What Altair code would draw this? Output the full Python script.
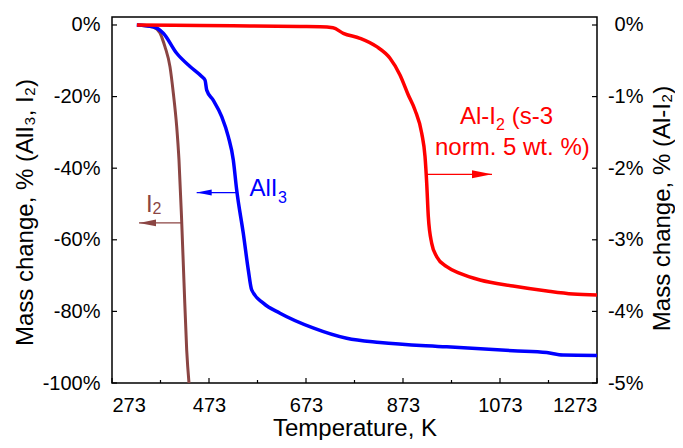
import altair as alt
import pandas as pd

# ---------------- data ----------------
# I2, left axis (mass change, %)
T_I2 = [324.5, 357.5, 372.0, 376.1, 382.3, 392.6, 399.4, 406.4, 411.1, 416.3, 421.5, 427.0, 431.8]
M_I2 = [0.0, -0.6, -2.2, -3.6, -6.1, -11.7, -19.0, -28.4, -37.7, -53.5, -72.1, -90.8, -100.1]

# AlI3, left axis (mass change, %)
T_ALI3 = [324.0, 358.0, 378.8, 406.4, 433.8, 458.0, 464.8, 468.3, 481.3, 499.2, 512.8, 523.1,
          530.1, 543.7, 554.0, 561.0, 585.0, 619.4, 687.5, 756.9, 825.6, 963.1, 1099.8,
          1169.3, 1202.9, 1273.0]
M_ALI3 = [0.0, -0.5, -2.3, -7.9, -11.6, -14.4, -15.4, -18.2, -20.9, -25.6, -31.2, -37.7,
          -46.1, -58.2, -68.4, -74.0, -77.7, -80.5, -84.6, -87.5, -88.7, -89.9, -91.0,
          -91.5, -92.2, -92.3]

# Al-I2 (s-3, norm. 5 wt. %), right axis (mass change, %)
T_ALI2 = [324.5, 454.4, 557.5, 660.6, 701.9, 728.7, 749.9, 784.4, 818.8, 846.2, 866.8, 883.9,
          897.7, 911.6, 918.4, 921.9, 925.2, 932.2, 942.5, 963.1, 990.5, 1031.8, 1099.8,
          1169.9, 1223.5, 1273.0]
M_ALI2 = [0.0, -0.007, -0.014, -0.021, -0.024, -0.038, -0.116, -0.186, -0.303, -0.465, -0.698,
          -0.978, -1.187, -1.513, -1.839, -2.211, -2.677, -3.049, -3.236, -3.376, -3.468,
          -3.561, -3.645, -3.715, -3.757, -3.771]

# axes
X_TICKS = [273, 473, 673, 873, 1073, 1273]
X_MINOR = [373, 573, 773, 973, 1173]
YL_TICKS = [0, -20, -40, -60, -80, -100]
YR_TICKS = [0, -1, -2, -3, -4, -5]

# annotations (positions in temperature / left-axis units)
LABEL_TXT = ["I", "2", "AlI", "3", "Al-I", "2", "(s-3", "norm. 5 wt. %)"]
LABEL_T = [343.1, 356.5, 556.5, 615.3, 990.5, 1064.8, 1097.2, 939.0]
LABEL_V = [-52.2, -52.8, -47.8, -49.7, -27.7, -29.3, -27.7, -36.3]
LABEL_SIZE = [24, 16, 24, 16, 24, 16, 24, 24]
LABEL_COL = ["#8b4543", "#8b4543", "#0000ff", "#0000ff", "#ff0000", "#ff0000", "#ff0000", "#ff0000"]

ARROW_FROM = [417.3, 530.1, 922.5]
ARROW_TO = [328.7, 447.6, 1056.5]
ARROW_V = [-55.3, -46.8, -41.7]
ARROW_COL = ["#8b4543", "#0000ff", "#ff0000"]

BROWN, BLUE, RED = "#8b4543", "#0000ff", "#ff0000"
FONT = "Liberation Sans"
W, H = 485, 366

# ---------------- tables ----------------
d_i2 = pd.DataFrame({"T": T_I2, "v": M_I2})
d_ali3 = pd.DataFrame({"T": T_ALI3, "v": M_ALI3})
d_ali2 = pd.DataFrame({"T": T_ALI2, "v": M_ALI2})
d_lab = pd.DataFrame({"T": LABEL_T, "v": LABEL_V, "txt": LABEL_TXT,
                      "fs": LABEL_SIZE, "col": LABEL_COL})
d_arr = pd.DataFrame({"T": ARROW_FROM, "T2": ARROW_TO, "v": ARROW_V, "col": ARROW_COL})
d_xt = pd.DataFrame({"T": X_TICKS})
d_xm = pd.DataFrame({"T": X_MINOR})
d_yl = pd.DataFrame({"v": YL_TICKS})
d_yr = pd.DataFrame({"v": YR_TICKS})

xs = alt.Scale(domain=[273, 1273], nice=False, zero=False)
ysL = alt.Scale(domain=[-100, 2.23], nice=False, zero=False)
ysR = alt.Scale(domain=[-5, 0.1117], nice=False, zero=False)

axX = alt.Axis(values=X_TICKS, format="d", title="Temperature, K", labelPadding=12,
               titleX=W / 2, titleY=52, titleBaseline="alphabetic", titleAlign="center")
axL = alt.Axis(values=YL_TICKS, labelExpr="datum.value + '%'",
               title="Mass change, % (AlI\u2083, I\u2082)", labelPadding=12,
               titleAngle=270, titleX=-80, titleY=195, titleBaseline="alphabetic",
               titleAlign="center")
axR = alt.Axis(values=YR_TICKS, labelExpr="datum.value + '%'", orient="right",
               title="Mass change, % (Al-I\u2082)", labelPadding=46, labelAlign="right",
               titleAngle=270, titleX=72, titleY=191, titleBaseline="alphabetic",
               titleAlign="center")


def X(f="T"):
    return alt.X(f"{f}:Q", scale=xs, axis=axX)


def YL(f="v"):
    return alt.Y(f"{f}:Q", scale=ysL, axis=axL)


def YR(f="v"):
    return alt.Y(f"{f}:Q", scale=ysR, axis=axR)


line_i2 = alt.Chart(d_i2).mark_line(color=BROWN, strokeWidth=3, interpolate="monotone",
                                    clip=True).encode(x=X(), y=YL())
line_ali3 = alt.Chart(d_ali3).mark_line(color=BLUE, strokeWidth=3.5, interpolate="monotone",
                                        clip=True).encode(x=X(), y=YL())
line_ali2 = alt.Chart(d_ali2).mark_line(color=RED, strokeWidth=3.5, interpolate="monotone",
                                        clip=True).encode(x=X(), y=YR())

labels = alt.Chart(d_lab).mark_text(align="left", baseline="alphabetic", font=FONT).encode(
    x=X(), y=YL(), text="txt:N",
    size=alt.Size("fs:Q", scale=None, legend=None),
    color=alt.Color("col:N", scale=None, legend=None))

shafts = alt.Chart(d_arr).mark_rule(strokeWidth=1.3).encode(
    x=X(), x2="T2:Q", y=YL(), color=alt.Color("col:N", scale=None, legend=None))

LEFT_HEAD = "M0,0L2,-0.4L2,0.4Z"
RIGHT_HEAD = "M0,0L-2,-0.4L-2,0.4Z"
head_i2 = alt.Chart(d_arr.iloc[[0]]).mark_point(shape=LEFT_HEAD, filled=True, size=289,
                                                 opacity=1, color=BROWN).encode(x=X("T2"), y=YL())
head_ali3 = alt.Chart(d_arr.iloc[[1]]).mark_point(shape=LEFT_HEAD, filled=True, size=225,
                                                   opacity=1, color=BLUE).encode(x=X("T2"), y=YL())
head_ali2 = alt.Chart(d_arr.iloc[[2]]).mark_point(shape=RIGHT_HEAD, filled=True, size=400,
                                                   opacity=1, color=RED).encode(x=X("T2"), y=YL())

# inward ticks
tick_x = alt.Chart(d_xt).mark_rule(color="black", strokeWidth=1.2).encode(
    x=X(), y=alt.value(H), y2=alt.value(H - 5))
tick_xm = alt.Chart(d_xm).mark_rule(color="black", strokeWidth=1.2).encode(
    x=X(), y=alt.value(H), y2=alt.value(H - 3))
tick_yl = alt.Chart(d_yl).mark_rule(color="black", strokeWidth=1.2).encode(
    y=YL(), x=alt.value(0), x2=alt.value(5))
tick_yr = alt.Chart(d_yr).mark_rule(color="black", strokeWidth=1.2).encode(
    y=YR(), x=alt.value(W), x2=alt.value(W - 5))

left = alt.layer(tick_x, tick_xm, tick_yl, line_i2, line_ali3, shafts, head_i2, head_ali3,
                 head_ali2, labels)
right = alt.layer(line_ali2, tick_yr)

chart = alt.layer(left, right).resolve_scale(y="independent").properties(
    width=W, height=H,
    autosize=alt.AutoSizeParams(type="none"),
    padding={"left": 104, "top": 9, "right": 78, "bottom": 57},
    background="white",
).configure_view(stroke="black", strokeWidth=1.5).configure_axis(
    domain=False, ticks=False, tickSize=0, grid=False,
    labelFont=FONT, labelFontSize=20, labelColor="black",
    titleFont=FONT, titleFontSize=24, titleFontWeight="normal", titleColor="black",
)

chart.save("out.html", embed_options={"renderer": "svg", "actions": False})
